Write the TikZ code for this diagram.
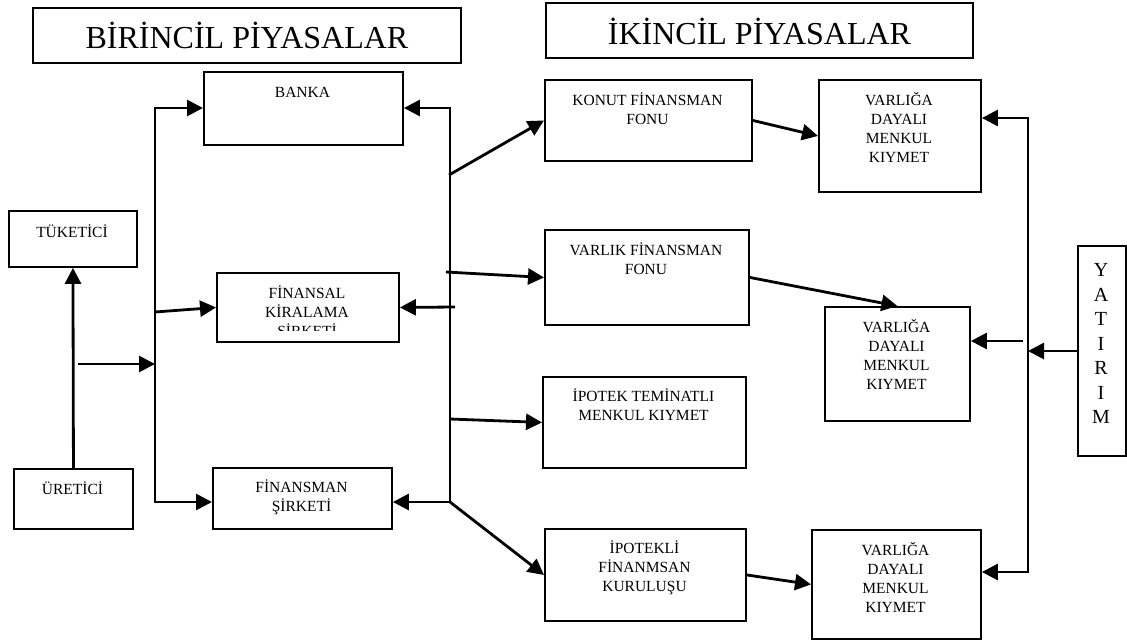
\documentclass[tikz,border=0pt]{standalone}
\usepackage{fontspec}
\setmainfont{Liberation Serif}
\usetikzlibrary{arrows.meta}
\newcommand{\myst}{\rule{0pt}{14pt}}
\newcommand{\mystb}{\rule{0pt}{18pt}}
\begin{document}
\begin{tikzpicture}[x=1pt,y=-1pt,
  box/.style={draw, line width=1.9pt, inner sep=0pt, anchor=north west},
  txt/.style={inner sep=0pt, align=center, anchor=north, font=\fontsize{15.5}{19}\selectfont},
  ttl/.style={inner sep=0pt, font=\fontsize{32}{38}\selectfont},
  arr/.style={line width=2.8pt, -{Triangle[length=16pt,width=16pt]}}]
\useasboundingbox (0,0) rectangle (1127,641);

% titles
\node[box, minimum width=428pt, minimum height=55pt] (t1) at (32,7) {};
\node[ttl] (t1t) at (t1.center) {BİRİNCİL PİYASALAR};
\node[box, minimum width=427pt, minimum height=55pt] (t2) at (545,2) {};
\node[ttl] (t2t) at ([yshift=-1pt]t2.center) {İKİNCİL PİYASALAR};

% boxes
\node[box, minimum width=199pt, minimum height=73pt] (banka) at (203,71) {};
\node[box, minimum width=128pt, minimum height=56pt] (tuketici) at (8,210) {};
\node[box, minimum width=182pt, minimum height=69pt] (finansal) at (216,272) {};
\node[box, minimum width=119pt, minimum height=60pt] (uretici) at (13,468) {};
\node[box, minimum width=179pt, minimum height=61pt] (finsirket) at (212,467) {};
\node[box, minimum width=207pt, minimum height=81pt] (konut) at (544,79) {};
\node[box, minimum width=204pt, minimum height=95pt] (varlik) at (544,229) {};
\node[box, minimum width=203pt, minimum height=91pt] (ipotek) at (542,376) {};
\node[box, minimum width=201pt, minimum height=92pt] (ipotekli) at (544,528) {};
\node[box, minimum width=162pt, minimum height=112pt] (v1) at (818,79) {};
\node[box, minimum width=145pt, minimum height=114pt] (v2) at (824,306) {};
\node[box, minimum width=169pt, minimum height=109pt] (v3) at (811,529) {};
\node[box, minimum width=48pt, minimum height=210pt] (yatirim) at (1077,245) {};

% texts
\node[txt] (bankat) at (302.5,83) {\myst BANKA};
\node[txt] (tuketicit) at (72,223) {\myst TÜKETİCİ};
\begin{scope}
\clip (216,272) rectangle (398,330);
\node[txt] (finansalt) at (307,284) {\myst FİNANSAL\\KİRALAMA\\ŞİRKETİ};
\end{scope}
\node[txt] (uretict) at (72.5,480) {\myst ÜRETİCİ};
\node[txt] (finsirkett) at (301.5,478) {\myst FİNANSMAN\\ŞİRKETİ};
\node[txt] (konutt) at (647.5,91) {\myst KONUT FİNANSMAN\\FONU};
\node[txt] (varlikt) at (646,241) {\myst VARLIK FİNANSMAN\\FONU};
\node[txt] (ipotekt) at (643.5,387) {\myst İPOTEK TEMİNATLI\\MENKUL KIYMET};
\node[txt] (ipoteklit) at (644.5,539) {\myst İPOTEKLİ\\FİNANMSAN\\KURULUŞU};
\node[txt] (v1t) at (899,91) {\myst VARLIĞA\\DAYALI\\MENKUL\\KIYMET};
\node[txt] (v2t) at (896.5,318) {\myst VARLIĞA\\DAYALI\\MENKUL\\KIYMET};
\node[txt] (v3t) at (895.5,541) {\myst VARLIĞA\\DAYALI\\MENKUL\\KIYMET};
\node[txt, font=\fontsize{20}{24.5}\selectfont] (yatirimt) at (1101,258.6) {\mystb Y\\A\\T\\I\\R\\I\\M};

% coordinates
\coordinate (lbt) at (155,108);
\coordinate (lbb) at (155,502);
\coordinate (lbk) at (155,312);
\coordinate (lbin) at (155,364);
\coordinate (pin) at (78,364);
\coordinate (rbt) at (450,108);
\coordinate (rbb) at (450,502);
\coordinate (rfk) at (455,307);
\coordinate (rkon) at (449,175);
\coordinate (rvar) at (446,272);
\coordinate (ripo) at (450,419);
\coordinate (ibt) at (1028,118);
\coordinate (ibb) at (1028,572);
\coordinate (iv2) at (1023,341);
\coordinate (iy) at (1028,351);

% left side
\draw[arr] (uretici.north) -- (tuketici.south);
\draw[arr] (pin) -- (lbin);
\draw[arr] (lbb) -- (lbt) -- (banka.west |- lbt);
\draw[arr] (lbt) -- (lbb) -- (finsirket.west |- lbb);
\draw[arr] (lbk) -- (finansal.west);

% right bus
\draw[arr] (rbb) -- (rbt) -- (banka.east |- rbt);
\draw[arr] (rbt) -- (rbb) -- (finsirket.east |- rbb);
\draw[arr] (rfk) -- (finansal.east);
\draw[arr] (rkon) -- (konut.west);
\draw[arr] (rvar) -- (varlik.west);
\draw[arr] (ripo) -- (ipotek.west);
\draw[arr] (rbb) -- (ipotekli.west);

% secondary
\draw[arr] (konut.east) -- (v1.west);
\draw[arr] (varlik.east) -- (v2.north);
\draw[arr] (ipotekli.east) -- (v3.west);

% investor bus
\draw[arr] (ibb) -- (ibt) -- (v1.east |- ibt);
\draw[arr] (ibt) -- (ibb) -- (v3.east |- ibb);
\draw[arr] (iv2) -- (v2.east |- iv2);
\draw[arr] (yatirim.west |- iy) -- (iy);
\end{tikzpicture}
\end{document}
